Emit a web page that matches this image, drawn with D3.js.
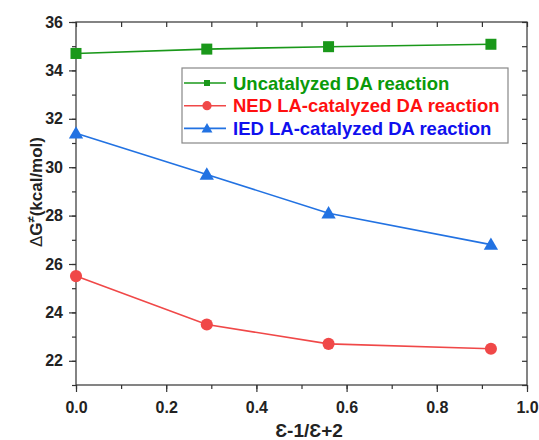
<!DOCTYPE html>
<html><head><meta charset="utf-8">
<script src="https://cdn.jsdelivr.net/npm/d3@7/dist/d3.min.js"></script>
<style>body{margin:0;background:#fff}svg{display:block}text{font-family:"Liberation Sans",Arial,sans-serif}</style>
</head><body><svg id="c" width="539" height="440"></svg>
<script>
const xVals = [0, 0.29, 0.56, 0.92];
const uncatalyzed = [34.7, 34.88, 34.98, 35.08];
const ned = [25.5, 23.5, 22.7, 22.5];
const ied = [31.4, 29.7, 28.1, 26.8];
const seriesNames = ["Uncatalyzed DA reaction", "NED LA-catalyzed DA reaction", "IED LA-catalyzed DA reaction"];
const xTicks = [0, 0.2, 0.4, 0.6, 0.8, 1.0];
const yTicks = [22, 24, 26, 28, 30, 32, 34, 36];

const svg = d3.select("#c");
const L = 76, R = 527, T = 22, B = 385;
const x = d3.scaleLinear().domain([0, 1]).range([L, R]);
const y = d3.scaleLinear().domain([21, 36]).range([B, T]);

const series = [
  {name: seriesNames[0], vals: uncatalyzed, line: "#1a981a", text: "#0a9a0a", shape: "square"},
  {name: seriesNames[1], vals: ned, line: "#f04848", text: "#ff1010", shape: "circle"},
  {name: seriesNames[2], vals: ied, line: "#2272e2", text: "#1010ee", shape: "triangle"}
];

const minorX = d3.range(0, 1.0001, 0.1);
const minorY = d3.range(21, 36.001, 1);
const ax = svg.append("g").attr("stroke", "#333").attr("stroke-width", 1.2);
ax.append("rect").attr("x", L).attr("y", T).attr("width", R - L).attr("height", B - T).attr("fill", "none");
const styleTicks = g => { g.select(".domain").remove(); g.selectAll("line").attr("stroke", "#333").attr("stroke-width", 1.2); };
const styleLabels = g => g.selectAll("text").attr("font-size", 16).attr("font-weight", "bold").attr("fill", "#222").attr("font-family", "Liberation Sans, Arial");
svg.append("g").attr("transform", `translate(0,${B})`)
  .call(d3.axisBottom(x).tickValues(minorX).tickSize(4).tickFormat("")).call(styleTicks);
svg.append("g").attr("transform", `translate(0,${B})`)
  .call(d3.axisBottom(x).tickValues(xTicks).tickSize(7).tickPadding(10).tickFormat(d3.format(".1f")))
  .call(styleTicks).call(styleLabels);
svg.append("g").attr("transform", `translate(0,${T})`)
  .call(d3.axisTop(x).tickValues(minorX).tickSize(-5).tickFormat("")).call(styleTicks);
svg.append("g").attr("transform", `translate(${L},0)`)
  .call(d3.axisLeft(y).tickValues(minorY).tickSize(4).tickFormat("")).call(styleTicks);
svg.append("g").attr("transform", `translate(${L},0)`)
  .call(d3.axisLeft(y).tickValues(yTicks).tickSize(7).tickPadding(6).tickFormat(d3.format("d")))
  .call(styleTicks).call(styleLabels);
svg.append("g").attr("transform", `translate(${R},0)`)
  .call(d3.axisRight(y).tickValues(minorY).tickSize(-5).tickFormat("")).call(styleTicks);

function marker(g, shape, cx, cy, color, s) {
  if (shape === "square") g.append("rect").attr("x", cx - s).attr("y", cy - s).attr("width", 2 * s).attr("height", 2 * s).attr("fill", color);
  else if (shape === "circle") g.append("circle").attr("cx", cx).attr("cy", cy).attr("r", s * 1.1).attr("fill", color);
  else g.append("path").attr("d", `M${cx},${cy - s * 1.3}L${cx + s * 1.3},${cy + s * 0.95}L${cx - s * 1.3},${cy + s * 0.95}Z`).attr("fill", color);
}

const line = d3.line().x(d => x(d[0])).y(d => y(d[1]));
series.forEach(s => {
  const pts = xVals.map((v, i) => [v, s.vals[i]]);
  svg.append("path").attr("d", line(pts)).attr("fill", "none").attr("stroke", s.line).attr("stroke-width", 1.6);
  const g = svg.append("g");
  pts.forEach(p => marker(g, s.shape, x(p[0]), y(p[1]), s.line, 5.5));
});

// legend
const lg = svg.append("g");
lg.append("rect").attr("x", 182).attr("y", 68).attr("width", 326).attr("height", 75).attr("fill", "#fff").attr("stroke", "#888").attr("stroke-width", 1.2);
series.forEach((s, i) => {
  const cy = 83 + i * 22.7;
  lg.append("line").attr("x1", 184).attr("x2", 226).attr("y1", cy).attr("y2", cy).attr("stroke", s.line).attr("stroke-width", 1.6);
  marker(lg, s.shape, 207, cy, s.line, s.shape === "square" ? 3 : 4.2);
  lg.append("text").attr("x", 233).attr("y", cy + 6.5).attr("font-size", 18.5).attr("font-weight", "bold").attr("fill", s.text).text(s.name);
});

// axis titles
svg.append("text").attr("x", 309).attr("y", 437).attr("text-anchor", "middle").attr("font-size", 19).attr("font-weight", "bold").attr("fill", "#222").text("Ɛ-1/Ɛ+2");
const yt = svg.append("text").attr("transform", "translate(42,192) rotate(-90)").attr("text-anchor", "middle").attr("font-size", 17).attr("font-weight", "bold").attr("fill", "#222");
yt.append("tspan").attr("font-weight", "normal").text("Δ");
yt.append("tspan").text("G");
yt.append("tspan").attr("font-size", 11).attr("dy", -7).text("≠");
yt.append("tspan").attr("dy", 7).text("(kcal/mol)");
</script></body></html>
